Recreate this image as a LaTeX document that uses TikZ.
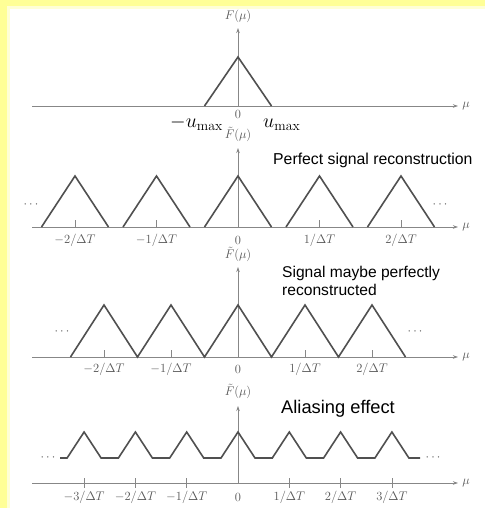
\RequirePackage{fix-cm}
\documentclass[tikz,border=0pt]{standalone}
\usepackage{fontspec}
\newfontfamily\sansf{Liberation Sans}
\usetikzlibrary{arrows.meta}
\definecolor{bgyellow}{RGB}{255,255,150}
\definecolor{axisgray}{RGB}{135,135,135}
\definecolor{siggray}{RGB}{80,80,80}
\definecolor{labgray}{RGB}{85,85,85}
\begin{document}
\begin{tikzpicture}[x=1pt,y=-1pt,
  axis/.style={draw=axisgray, line width=0.8pt, -{Stealth[length=5pt,width=3.5pt]}},
  sig/.style={draw=siggray, line width=1.6pt, line join=miter},
  tickmark/.style={draw=axisgray, line width=0.8pt},
  lab/.style={text=labgray, font=\fontsize{12.5}{14}\selectfont, inner sep=0pt},
  big/.style={text=black, font=\fontsize{20}{22}\selectfont, inner sep=0pt, anchor=base west},
  note/.style={text=black, font=\sansf\fontsize{15.8}{18}\selectfont, inner sep=0pt, anchor=west, align=left}]
\useasboundingbox (0,0) rectangle (485,508);
\fill[bgyellow] (0,0) rectangle (485,508);
\fill[bgyellow!40] (7,6) rectangle (485,508);
\fill[white] (10,9) rectangle (485,508);

% ---------- panel 1 ----------
\coordinate (a1l) at (32,106); \coordinate (a1r) at (458,106);
\coordinate (v1b) at (238,106); \coordinate (v1t) at (238,28);
\draw[axis] (a1l) -- (a1r);
\draw[axis] (v1b) -- (v1t);
\draw[sig] (204.5,106) -- (238,57) -- (271.5,106);
\node[lab] (f1) at (238,16) {$F(\mu)$};
\node[lab] (mu1) at (466,106) {$\mu$};
\node[lab] (z1) at (238,114) {$0$};
\node[big] (umn) at (170,128) {$-u_{\max}$};
\node[big] (ump) at (263,128) {$u_{\max}$};

% ---------- panel 2 ----------
\coordinate (a2l) at (32,227); \coordinate (a2r) at (458,227);
\coordinate (v2b) at (238,227); \coordinate (v2t) at (238,148);
\draw[axis] (a2l) -- (a2r);
\draw[axis] (v2b) -- (v2t);
\foreach \c in {-2,...,2} {
  \draw[sig] ({238+\c*81.5-33.5},227) -- ({238+\c*81.5},176) -- ({238+\c*81.5+33.5},227);
}
\foreach \c in {-2,-1,1,2} {
  \draw[tickmark] ({238+\c*81.5},227) -- ({238+\c*81.5},220);
}
\node[lab] (f2) at (238,134) {$\tilde F(\mu)$};
\node[lab] (mu2) at (466,227) {$\mu$};
\node[lab] (l2a) at ({238-2*81.5},240) {$-2/\Delta T$};
\node[lab] (l2b) at ({238-81.5},240) {$-1/\Delta T$};
\node[lab] (l2c) at (238,240) {$0$};
\node[lab] (l2d) at ({238+81.5},240) {$1/\Delta T$};
\node[lab] (l2e) at ({238+2*81.5},240) {$2/\Delta T$};
\node[lab] (d2l) at (31,205) {$\cdots$};
\node[lab] (d2r) at (440,205) {$\cdots$};
\node[note] (t2) at (273,160) {Perfect signal reconstruction};

% ---------- panel 3 ----------
\coordinate (a3l) at (32,357); \coordinate (a3r) at (458,357);
\coordinate (v3b) at (238,357); \coordinate (v3t) at (238,267);
\draw[axis] (a3l) -- (a3r);
\draw[axis] (v3b) -- (v3t);
\draw[sig] (70.5,357) foreach \c in {-2,...,2} { -- ({238+\c*67},305) -- ({238+\c*67+33.5},357) };
\foreach \c in {-2,-1,1,2} {
  \draw[tickmark] ({238+\c*67},357) -- ({238+\c*67},350);
}
\node[lab] (f3) at (238,254) {$\tilde F(\mu)$};
\node[lab] (mu3) at (466,357) {$\mu$};
\node[lab] (l3a) at ({238-2*67},369) {$-2/\Delta T$};
\node[lab] (l3b) at ({238-67},369) {$-1/\Delta T$};
\node[lab] (l3c) at (238,369) {$0$};
\node[lab] (l3d) at ({238+67},369) {$1/\Delta T$};
\node[lab] (l3e) at ({238+2*67},369) {$2/\Delta T$};
\node[lab] (d3l) at (62,332) {$\cdots$};
\node[lab] (d3r) at (415,332) {$\cdots$};
\node[note, font=\sansf\fontsize{15.6}{18}\selectfont] (t3) at (282,281) {Signal maybe perfectly\\reconstructed};

% ---------- panel 4 ----------
\coordinate (a4l) at (32,483); \coordinate (a4r) at (458,483);
\coordinate (v4b) at (238,483); \coordinate (v4t) at (238,406);
\draw[axis] (a4l) -- (a4r);
\draw[axis] (v4b) -- (v4t);
\draw[sig] (60,458) foreach \k in {-3,...,3} { -- ({238+51.3*\k-17},458) -- ({238+51.3*\k},432) -- ({238+51.3*\k+17},458) } -- (420,458);
\foreach \k in {-3,-2,-1,1,2,3} {
  \draw[tickmark] ({238+51.3*\k},478) -- ({238+51.3*\k},488);
}
\node[lab] (f4) at (238,391) {$\tilde F(\mu)$};
\node[lab] (mu4) at (466,483) {$\mu$};
\node[lab] (l4a) at ({238-3*51.3},497) {$-3/\Delta T$};
\node[lab] (l4b) at ({238-2*51.3},497) {$-2/\Delta T$};
\node[lab] (l4c) at ({238-51.3},497) {$-1/\Delta T$};
\node[lab] (l4d) at (238,497) {$0$};
\node[lab] (l4e) at ({238+51.3},497) {$1/\Delta T$};
\node[lab] (l4f) at ({238+2*51.3},497) {$2/\Delta T$};
\node[lab] (l4g) at ({238+3*51.3},497) {$3/\Delta T$};
\node[lab] (d4l) at (48,458) {$\cdots$};
\node[lab] (d4r) at (433,458) {$\cdots$};
\node[note, font=\sansf\fontsize{18.3}{20}\selectfont] (t4) at (281,409) {Aliasing effect};
\end{tikzpicture}
\end{document}
